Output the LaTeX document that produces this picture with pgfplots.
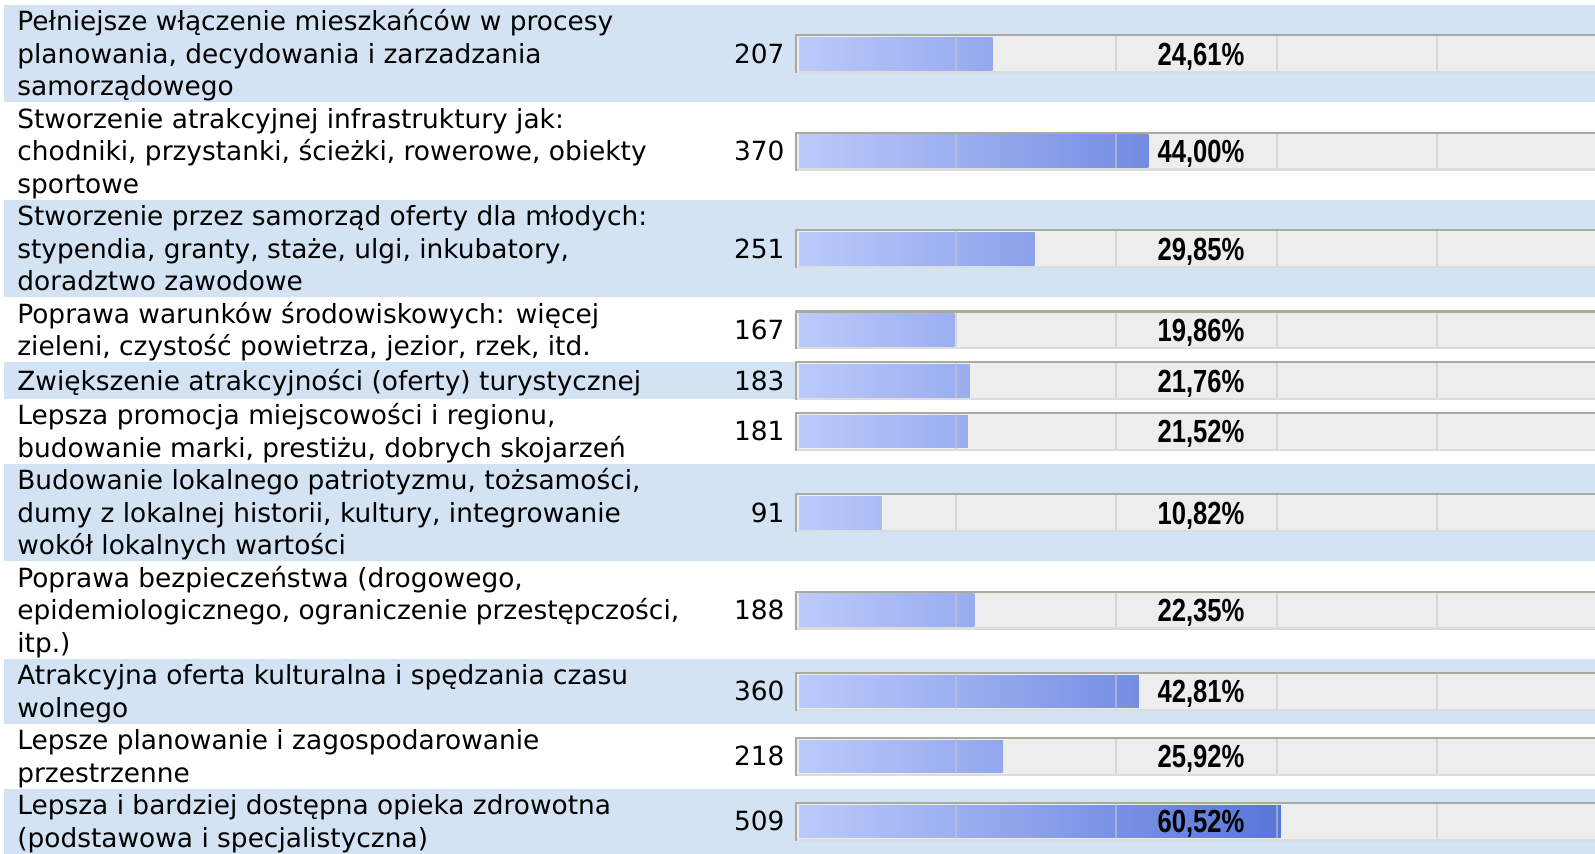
\documentclass[border=0pt]{standalone}
\usepackage{fontspec}
\setmainfont{DejaVu Sans}
\newfontfamily\pctfont{Liberation Sans}
\usepackage{graphicx}
\usepackage{pgfplots}
\pgfplotsset{compat=1.18}
\definecolor{rowblue}{HTML}{D3E3F3}
\definecolor{barL}{HTML}{BDCBFB}
\definecolor{barR}{HTML}{153CC1}
\definecolor{trk}{HTML}{EDEDED}
\definecolor{trkTop}{HTML}{A9A99C}
\definecolor{trkBot}{HTML}{DCDCDC}
\definecolor{gridc}{HTML}{C8C8C8}
\newcommand\mainsize{\fontsize{13.2pt}{15pt}\selectfont}
\newcommand\rowbg[2]{\fill[rowblue] (axis cs:-98.51,#1) rectangle (axis cs:99.63,#2);}
\newcommand\track[1]{%
 \fill[trk] ([yshift=9.75pt]axis cs:0,#1) rectangle ([yshift=-9.75pt]axis cs:99.63,#1);
 \fill[trkTop] ([yshift=9.75pt]axis cs:0,#1) rectangle ([yshift=8.7pt]axis cs:99.63,#1);
 \fill[trkBot] ([yshift=-8.6pt]axis cs:0,#1) rectangle ([yshift=-9.75pt]axis cs:99.63,#1);}
\newcommand\tfront[1]{%
 \fill[trkTop] ([yshift=9.75pt]axis cs:0,#1) rectangle ([yshift=-9.75pt]axis cs:0.25,#1);
 \fill[trk] ([yshift=8.7pt]axis cs:0.25,#1) rectangle ([yshift=-8.6pt]axis cs:0.5,#1);
 \draw[gridc, opacity=.6, line width=1pt] ([yshift=8.7pt]axis cs:20,#1) -- ([yshift=-8.6pt]axis cs:20,#1);
 \draw[gridc, opacity=.6, line width=1pt] ([yshift=8.7pt]axis cs:40,#1) -- ([yshift=-8.6pt]axis cs:40,#1);
 \draw[gridc, opacity=.6, line width=1pt] ([yshift=8.7pt]axis cs:60,#1) -- ([yshift=-8.6pt]axis cs:60,#1);
 \draw[gridc, opacity=.6, line width=1pt] ([yshift=8.7pt]axis cs:80,#1) -- ([yshift=-8.6pt]axis cs:80,#1);}
\newcommand\lab[2]{\node[anchor=base west,inner sep=0pt,font=\mainsize] at ([yshift=-0.75pt]axis cs:-96.89,#1) {#2};}
\newcommand\cnt[2]{\node[anchor=base east,inner sep=0pt,font=\mainsize] at ([yshift=-4.75pt]axis cs:-1.25,#1) {#2};}
\newcommand\pct[2]{\node[anchor=base,inner sep=0pt] at ([yshift=-5.75pt]axis cs:50.56,#1) {\pctfont\bfseries\fontsize{16pt}{16pt}\selectfont\scalebox{0.8}[1]{#2\%}};}
\begin{document}
\begin{tikzpicture}
\begin{axis}[
  set layers=standard,
  scale only axis, width=797.5pt, height=427pt,
  xmin=-99.0, xmax=99.63, ymin=0, ymax=854, y dir=reverse,
  hide axis, clip=false, enlargelimits=false]
\begin{pgfonlayer}{axis background}
\rowbg{5}{102.5}
\rowbg{200}{297.5}
\rowbg{362.5}{399}
\rowbg{464}{561.5}
\rowbg{659}{724}
\rowbg{789}{854}
\track{53.75}\track{151.25}\track{248.75}\track{330}\track{380.75}\track{431.5}
\track{512.75}\track{610.25}\track{691.5}\track{756.5}\track{821.5}
\end{pgfonlayer}
\addplot[xbar, bar width=32.6, bar shift=0pt, draw=none, left color=barL, right color=barR!24.61!barL] coordinates {(24.61,53.75)};
\addplot[xbar, bar width=32.6, bar shift=0pt, draw=none, left color=barL, right color=barR!44.00!barL] coordinates {(44.00,151.25)};
\addplot[xbar, bar width=32.6, bar shift=0pt, draw=none, left color=barL, right color=barR!29.85!barL] coordinates {(29.85,248.75)};
\addplot[xbar, bar width=32.6, bar shift=0pt, draw=none, left color=barL, right color=barR!19.86!barL] coordinates {(19.86,330)};
\addplot[xbar, bar width=32.6, bar shift=0pt, draw=none, left color=barL, right color=barR!21.76!barL] coordinates {(21.76,380.75)};
\addplot[xbar, bar width=32.6, bar shift=0pt, draw=none, left color=barL, right color=barR!21.52!barL] coordinates {(21.52,431.5)};
\addplot[xbar, bar width=32.6, bar shift=0pt, draw=none, left color=barL, right color=barR!10.82!barL] coordinates {(10.82,512.75)};
\addplot[xbar, bar width=32.6, bar shift=0pt, draw=none, left color=barL, right color=barR!22.35!barL] coordinates {(22.35,610.25)};
\addplot[xbar, bar width=32.6, bar shift=0pt, draw=none, left color=barL, right color=barR!42.81!barL] coordinates {(42.81,691.5)};
\addplot[xbar, bar width=32.6, bar shift=0pt, draw=none, left color=barL, right color=barR!25.92!barL] coordinates {(25.92,756.5)};
\addplot[xbar, bar width=32.6, bar shift=0pt, draw=none, left color=barL, right color=barR!60.52!barL] coordinates {(60.52,821.5)};
\begin{pgfonlayer}{axis foreground}
\tfront{53.75}\tfront{151.25}\tfront{248.75}\tfront{330}\tfront{380.75}\tfront{431.5}
\tfront{512.75}\tfront{610.25}\tfront{691.5}\tfront{756.5}\tfront{821.5}
\lab{29.25}{Pełniejsze włączenie mieszkańców w procesy}
\lab{61.75}{planowania, decydowania i zarzadzania}
\lab{94.25}{samorządowego}
\lab{126.75}{Stworzenie atrakcyjnej infrastruktury jak:}
\lab{159.25}{chodniki, przystanki, ścieżki, rowerowe, obiekty}
\lab{191.75}{sportowe}
\lab{224.25}{Stworzenie przez samorząd oferty dla młodych:}
\lab{256.75}{stypendia, granty, staże, ulgi, inkubatory,}
\lab{289.25}{doradztwo zawodowe}
\lab{321.75}{Poprawa warunków środowiskowych: więcej}
\lab{354.25}{zieleni, czystość powietrza, jezior, rzek, itd.}
\lab{388.75}{Zwiększenie atrakcyjności (oferty) turystycznej}
\lab{423.25}{Lepsza promocja miejscowości i regionu,}
\lab{455.75}{budowanie marki, prestiżu, dobrych skojarzeń}
\lab{488.25}{Budowanie lokalnego patriotyzmu, tożsamości,}
\lab{520.75}{dumy z lokalnej historii, kultury, integrowanie}
\lab{553.25}{wokół lokalnych wartości}
\lab{585.75}{Poprawa bezpieczeństwa (drogowego,}
\lab{618.25}{epidemiologicznego, ograniczenie przestępczości,}
\lab{650.75}{itp.)}
\lab{683.25}{Atrakcyjna oferta kulturalna i spędzania czasu}
\lab{715.75}{wolnego}
\lab{748.25}{Lepsze planowanie i zagospodarowanie}
\lab{780.75}{przestrzenne}
\lab{813.25}{Lepsza i bardziej dostępna opieka zdrowotna}
\lab{845.75}{(podstawowa i specjalistyczna)}
\cnt{53.75}{207}\cnt{151.25}{370}\cnt{248.75}{251}\cnt{330}{167}\cnt{380.75}{183}\cnt{431.5}{181}
\cnt{512.75}{91}\cnt{610.25}{188}\cnt{691.5}{360}\cnt{756.5}{218}\cnt{821.5}{509}
\pct{53.75}{24,61}\pct{151.25}{44,00}\pct{248.75}{29,85}\pct{330}{19,86}\pct{380.75}{21,76}\pct{431.5}{21,52}
\pct{512.75}{10,82}\pct{610.25}{22,35}\pct{691.5}{42,81}\pct{756.5}{25,92}\pct{821.5}{60,52}
\end{pgfonlayer}
\end{axis}
\pgfresetboundingbox
\path (0,0) rectangle (797.5pt,427pt);
\end{tikzpicture}
\end{document}
